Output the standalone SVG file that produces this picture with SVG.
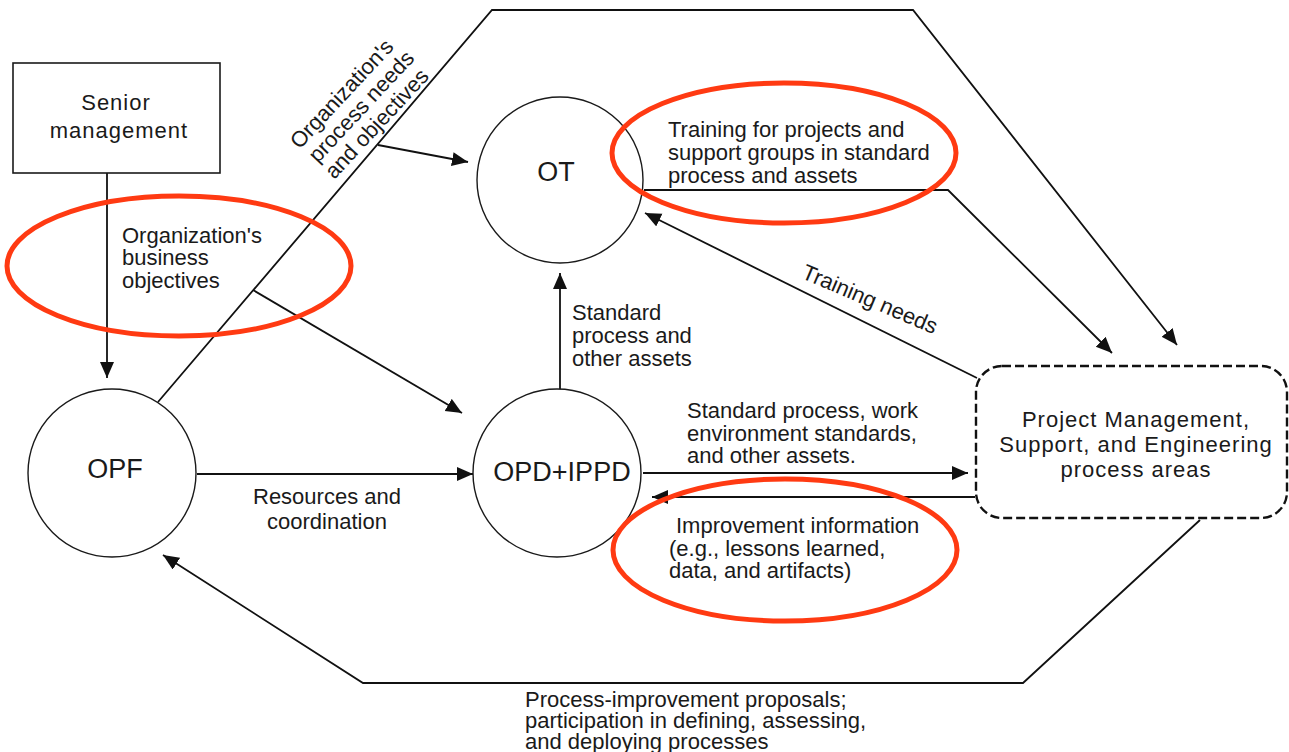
<svg xmlns="http://www.w3.org/2000/svg" width="1289" height="752" viewBox="0 0 1289 752">
  <style>
    .bg { fill: #ffffff; }
    .node { fill: #ffffff; stroke: #1a1a1a; stroke-width: 1.4; }
    .box { fill: #ffffff; stroke: #1a1a1a; stroke-width: 1.6; }
    .dash { fill: #ffffff; stroke: #111111; stroke-width: 2.4; stroke-dasharray: 9 4; }
    .edge { fill: none; stroke: #111111; stroke-width: 1.8; }
    .arrow { marker-end: url(#head); }
    .lbl { font-family: "Liberation Sans", Arial, sans-serif; font-size: 22px; fill: #1a1a1a; }
    .wide { letter-spacing: 1px; }
    .big { font-family: "Liberation Sans", Arial, sans-serif; font-size: 27px; fill: #1a1a1a; text-anchor: middle; }
    .mid { text-anchor: middle; }
    .mark { fill: none; stroke: #ff3a12; stroke-width: 5; }
  </style>
  <defs>
    <marker id="head" markerUnits="userSpaceOnUse" markerWidth="17" markerHeight="15" refX="16" refY="7" orient="auto">
      <path d="M0,0 L16,7 L0,14 z" fill="#111111"/>
    </marker>
  </defs>

  <rect class="bg" x="0" y="0" width="1289" height="752"/>

  <!-- connectors -->
  <g id="connectors">
    <!-- outer loop: OPF up over the top to the process areas -->
    <path class="edge arrow" d="M158,402 L492,10 L913,10 L1177,345"/>
    <path class="edge arrow" d="M253,290 L462,413"/>
    <path class="edge arrow" d="M378,145 L468,162"/>
    <!-- OT training out to process areas -->
    <path class="edge arrow" d="M644,190 L948,190 L1112,353"/>
    <!-- training needs back to OT -->
    <path class="edge arrow" d="M977,378 L645,213"/>
    <!-- bottom loop back to OPF -->
    <path class="edge arrow" d="M1200,520 L1023,683 L363,683 L163,555"/>
    <!-- straight links -->
    <path class="edge arrow" d="M107,173 L107,378"/>
    <path class="edge arrow" d="M197,474 L473,474"/>
    <path class="edge arrow" d="M643,473 L968,473"/>
    <path class="edge arrow" d="M975,497 L652,497"/>
    <path class="edge arrow" d="M560,390 L560,273"/>
  </g>

  <!-- nodes -->
  <g id="senior-management">
    <rect class="box" x="13" y="63" width="207" height="110"/>
    <text class="lbl mid wide" x="116" y="110">Senior</text>
    <text class="lbl mid wide" x="119" y="138">management</text>
  </g>

  <g id="opf">
    <circle class="node" cx="112" cy="473" r="84"/>
    <text class="big" x="115" y="478">OPF</text>
  </g>

  <g id="ot">
    <circle class="node" cx="560" cy="180" r="83"/>
    <text class="big" x="556" y="181">OT</text>
  </g>

  <g id="opd-ippd">
    <circle class="node" cx="557" cy="473" r="84"/>
    <text class="big" x="562" y="481">OPD+IPPD</text>
  </g>

  <g id="process-areas">
    <rect class="dash" x="976" y="366" width="311" height="152" rx="26" ry="26"/>
    <text class="lbl mid wide" x="1136" y="427">Project Management,</text>
    <text class="lbl mid wide" x="1136" y="452">Support, and Engineering</text>
    <text class="lbl mid wide" x="1136" y="477">process areas</text>
  </g>

  <!-- connector labels -->
  <g id="labels">
    <g transform="translate(342,94) rotate(-47)">
      <text class="lbl mid" x="0" y="7">Organization's</text>
      <text class="lbl mid" x="4" y="30">process needs</text>
      <text class="lbl mid" x="2" y="53">and objectives</text>
    </g>
    <text class="lbl" x="122" y="243">Organization's</text>
    <text class="lbl" x="122" y="265">business</text>
    <text class="lbl" x="122" y="288">objectives</text>

    <text class="lbl" x="668" y="137">Training for projects and</text>
    <text class="lbl" x="668" y="160">support groups in standard</text>
    <text class="lbl" x="668" y="183">process and assets</text>

    <text class="lbl mid" transform="translate(867,306) rotate(23)" x="0" y="0">Training needs</text>

    <text class="lbl" x="572" y="320">Standard</text>
    <text class="lbl" x="572" y="343">process and</text>
    <text class="lbl" x="572" y="366">other assets</text>

    <text class="lbl" x="687" y="418">Standard process, work</text>
    <text class="lbl" x="687" y="441">environment standards,</text>
    <text class="lbl" x="687" y="463">and other assets.</text>

    <text class="lbl mid" x="327" y="504">Resources and</text>
    <text class="lbl mid" x="327" y="529">coordination</text>

    <text class="lbl" x="676" y="533">Improvement information</text>
    <text class="lbl" x="669" y="556">(e.g., lessons learned,</text>
    <text class="lbl" x="669" y="578">data, and artifacts)</text>

    <text class="lbl" x="525" y="707">Process-improvement proposals;</text>
    <text class="lbl" x="525" y="728">participation in defining, assessing,</text>
    <text class="lbl" x="525" y="749">and deploying processes</text>
  </g>

  <!-- highlight rings -->
  <g id="highlights">
    <ellipse class="mark" cx="179" cy="266" rx="172" ry="70"/>
    <ellipse class="mark" cx="784" cy="153" rx="172" ry="70"/>
    <ellipse class="mark" cx="785" cy="550" rx="172" ry="71"/>
  </g>
</svg>
